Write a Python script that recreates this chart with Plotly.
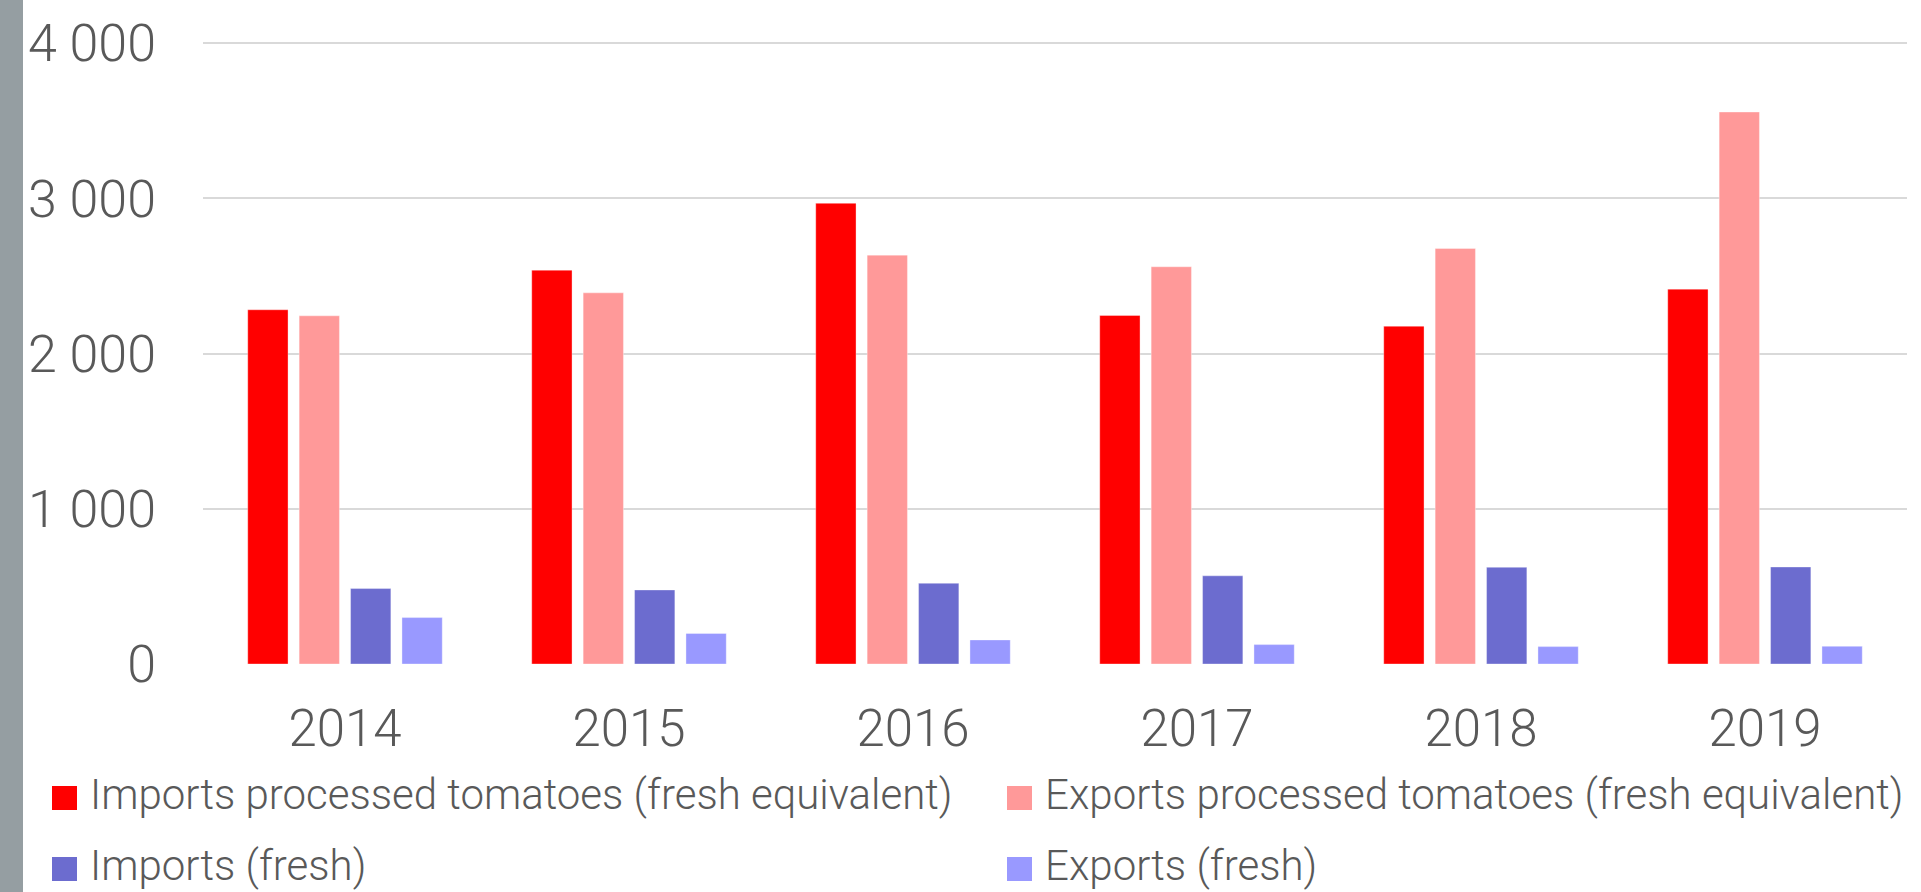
import plotly.graph_objects as go

# Tomato trade, thousand tonnes
years = ["2014", "2015", "2016", "2017", "2018", "2019"]
imports_processed = [2282, 2537, 2968, 2245, 2176, 2415]
exports_processed = [2243, 2391, 2634, 2559, 2677, 3556]
imports_fresh = [486, 477, 520, 568, 623, 625]
exports_fresh = [299, 197, 155, 125, 112, 114]

series_names = [
    "Imports processed tomatoes (fresh equivalent)",
    "Exports processed tomatoes (fresh equivalent)",
    "Imports (fresh)",
    "Exports (fresh)",
]
series_values = [imports_processed, exports_processed, imports_fresh, exports_fresh]
series_colors = ["#FF0000", "#FF9999", "#6C6CCF", "#9999FF"]

y_ticks = [0, 1000, 2000, 3000, 4000]
y_tick_labels = ["0", "1 000", "2 000", "3 000", "4 000"]
y_max = 4020

W, H = 1921, 892
L, R, T, B = 203, 14, 40, 228
TEXT = "#595959"
FONT = "Roboto"


def px_x(px):
    return (px - L) / (W - L - R)


def px_y(py):
    return 1 - (py - T) / (H - T - B)


fig = go.Figure()
for name, vals, col in zip(series_names, series_values, series_colors):
    fig.add_bar(
        x=years, y=vals, name=name, showlegend=False,
        marker=dict(color=col, line=dict(width=1, color="rgba(255,255,255,0.35)")),
    )

shapes = [
    # grey strip along the left edge
    dict(type="rect", xref="paper", yref="paper", layer="above",
         x0=px_x(0), x1=px_x(23), y0=px_y(H + 2), y1=px_y(-2),
         fillcolor="#959EA2", line=dict(width=0)),
]
annotations = []

# two-column legend with large swatches
legend_slots = [(52, 798), (1007, 798), (52, 869), (1007, 869)]
for (sx, cy), name, col in zip(legend_slots, series_names, series_colors):
    shapes.append(dict(type="rect", xref="paper", yref="paper",
                       x0=px_x(sx), x1=px_x(sx + 25), y0=px_y(cy + 12), y1=px_y(cy - 12),
                       fillcolor=col, line=dict(width=0)))
    annotations.append(dict(xref="paper", yref="paper", x=px_x(sx + 36), y=px_y(cy - 4),
                            xanchor="left", yanchor="middle", showarrow=False, text=name,
                            font=dict(family=FONT, size=42, color=TEXT, weight=300)))

fig.update_layout(
    width=W, height=H,
    margin=dict(l=L, r=R, t=T, b=B, autoexpand=False),
    barmode="group", bargap=0.276, bargroupgap=0.216,
    plot_bgcolor="white", paper_bgcolor="white",
    shapes=shapes, annotations=annotations,
    xaxis=dict(showgrid=False, showline=False, ticks="", zeroline=False,
               tickfont=dict(family=FONT, size=51, color=TEXT, weight=300),
               ticklabelstandoff=30),
    yaxis=dict(range=[0, y_max], tickvals=y_ticks, ticktext=y_tick_labels,
               showgrid=True, gridcolor="#D9D9D9", gridwidth=2,
               zeroline=False, showline=False, ticks="",
               tickfont=dict(family=FONT, size=52, color=TEXT, weight=300),
               ticklabelstandoff=46),
)

fig.write_html("out.html")
